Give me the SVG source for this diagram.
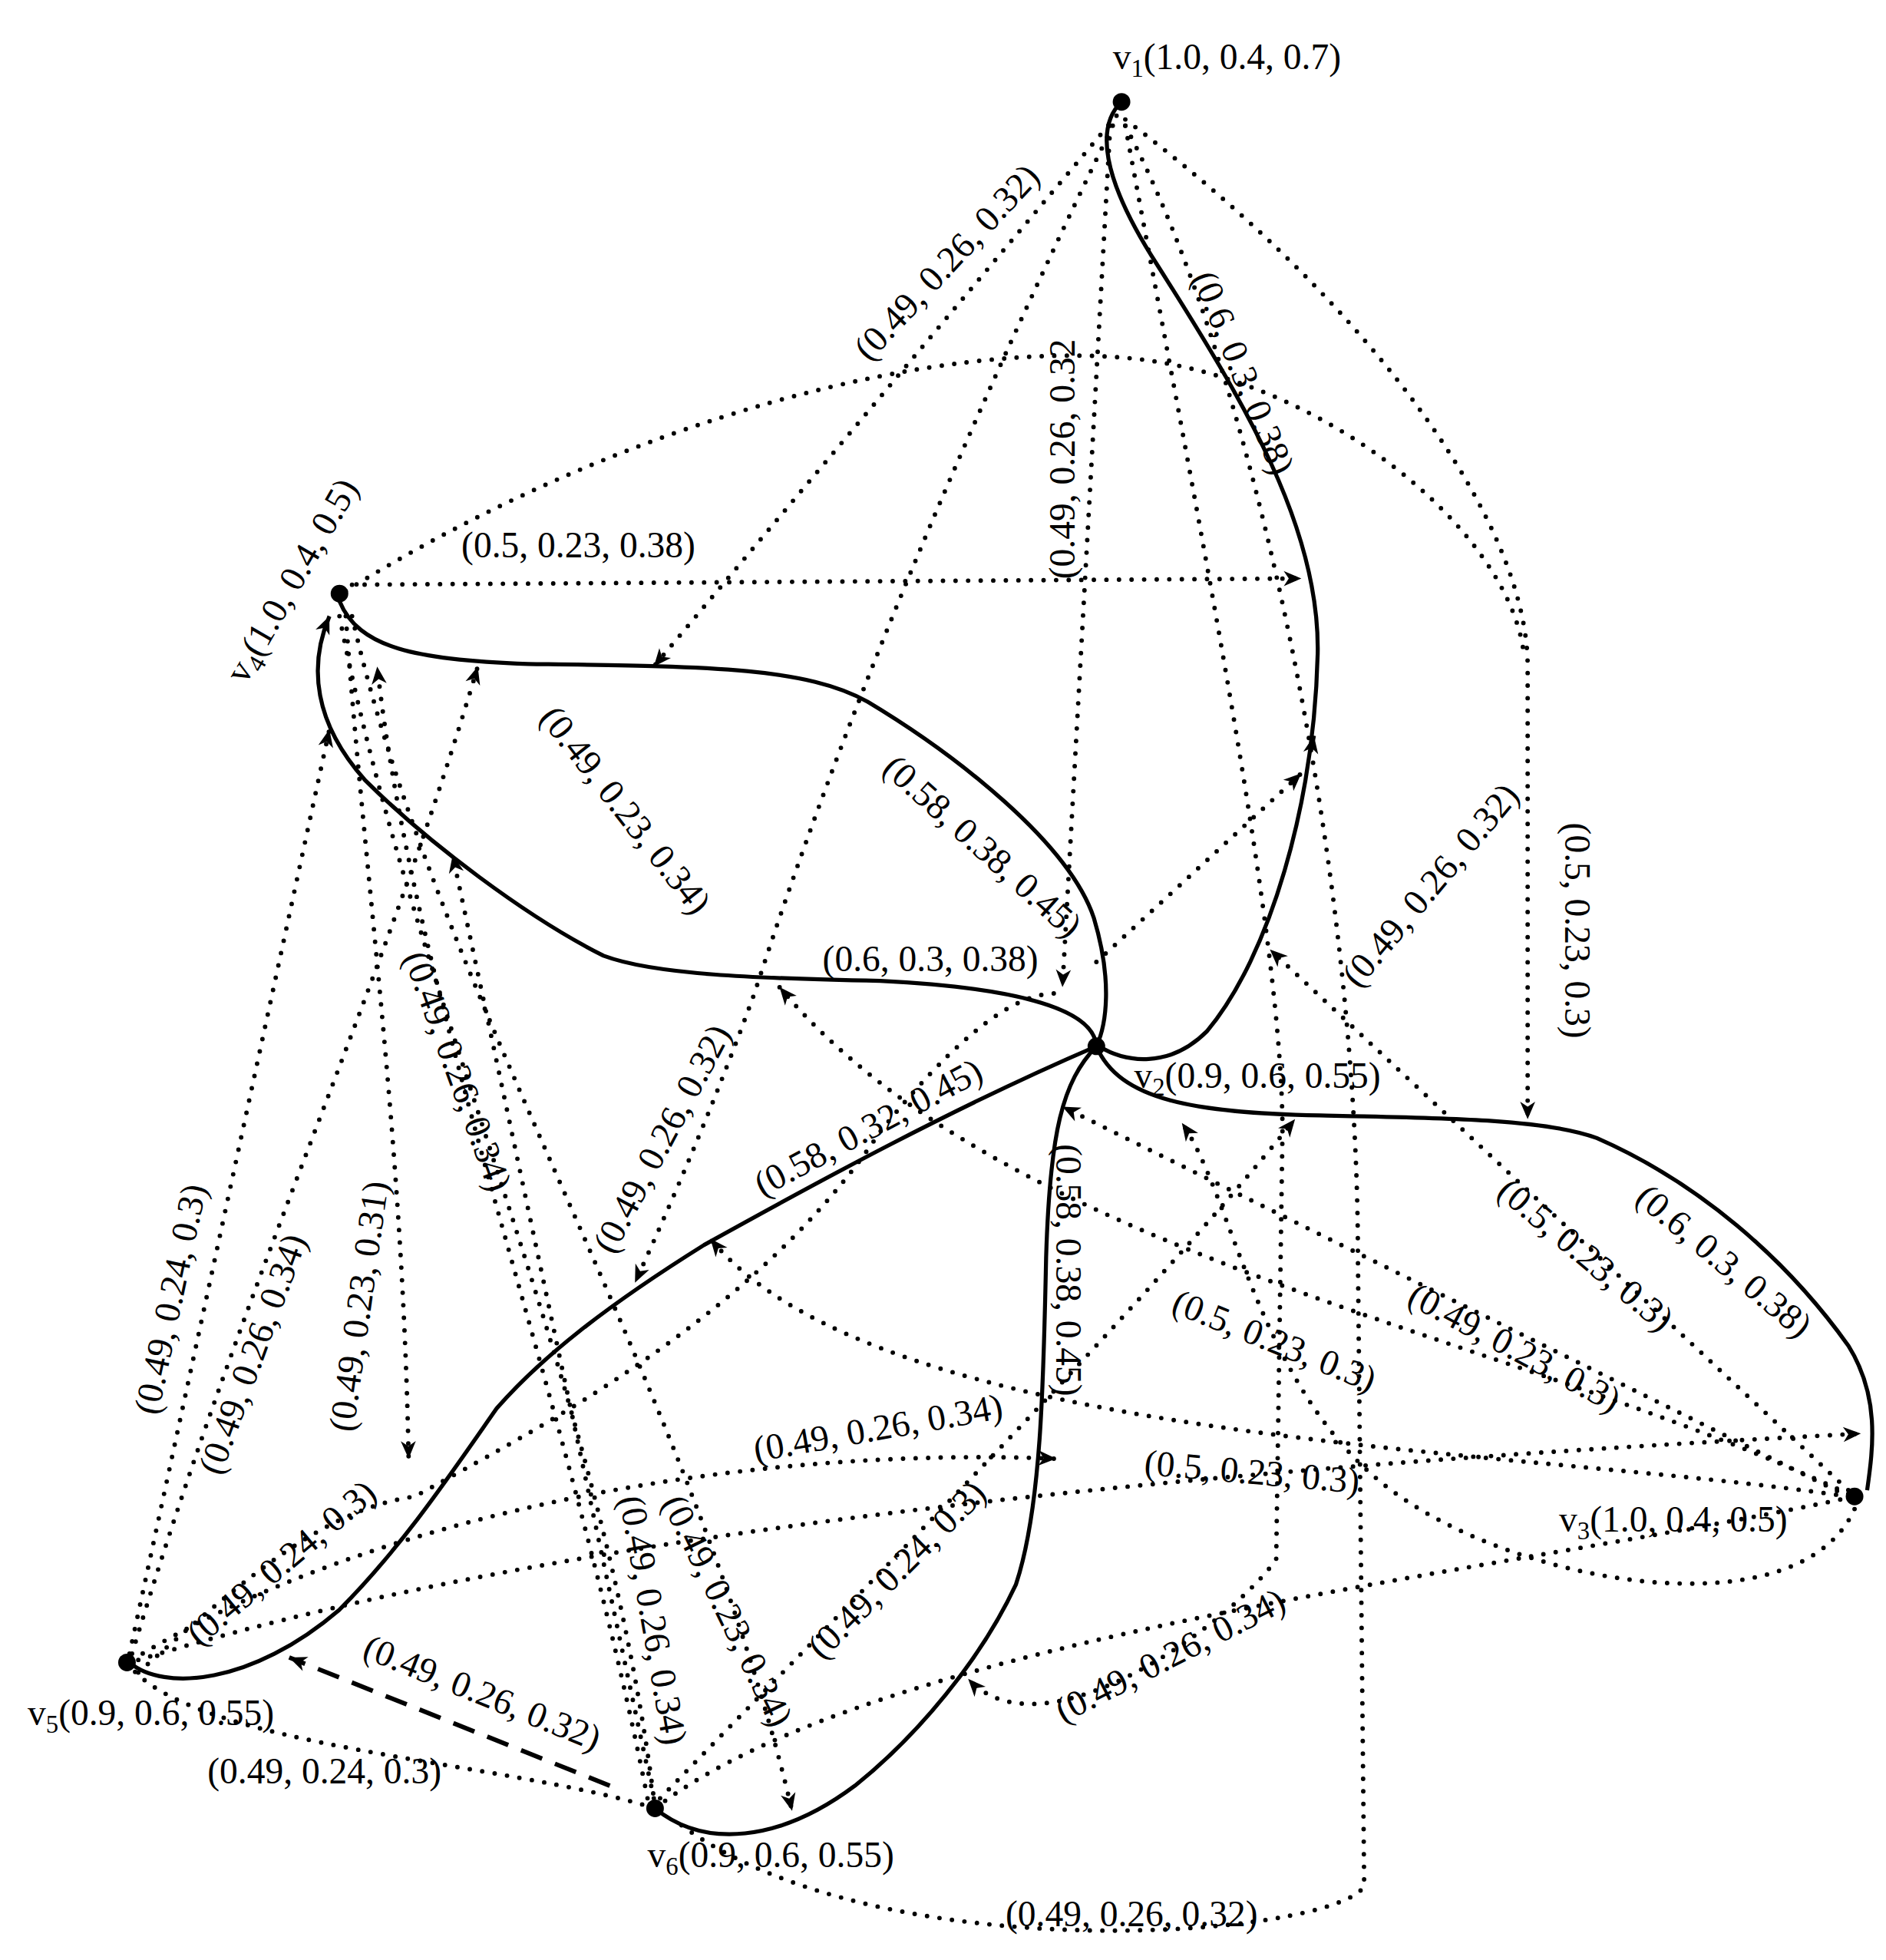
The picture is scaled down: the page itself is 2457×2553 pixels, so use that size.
<svg xmlns="http://www.w3.org/2000/svg" width="2457" height="2553" viewBox="0 0 2457 2553">
<style>
.s{fill:none;stroke:#000;stroke-width:3.2}
.d{fill:none;stroke:#000;stroke-width:3.6;stroke-dasharray:0 10;stroke-linecap:round}
.k{fill:none;stroke:#000;stroke-width:3.6;stroke-dasharray:18 11}
text{font-family:"Liberation Serif",serif;font-size:29px;fill:#000}
.n{fill:#000}
</style>
<defs>
<marker id="m" viewBox="-2 -8 18 16" refX="14" refY="0" markerWidth="18" markerHeight="16" orient="auto" markerUnits="userSpaceOnUse"><path d="M0,-6 L14,0 L0,6 L4,0 z" fill="#000"/></marker>
</defs>
<rect width="2457" height="2553" fill="#fff"/>
<g transform="scale(1.638)">
<g id="connectors">
<path class="s" d="M892,81 C872,100 875,140 920,210 C990,320 1050,420 1048,520 C1045,640 1010,760 960,820 C930,850 895,845 874,832"/>
<path class="s" d="M1043,596 L1045,585" marker-end="url(#m)"/>
<path class="s" d="M270,478 C285,515 330,525 420,528 C560,530 640,530 690,558 C760,600 850,670 870,730 C885,780 880,815 872,832"/>
<path class="s" d="M872,832 C870,800 800,785 700,780 C600,778 520,775 480,760 C420,730 340,670 290,620 C250,575 245,530 262,490" marker-end="url(#m)"/>
<path class="s" d="M872,832 C890,875 950,885 1050,887 C1150,889 1230,890 1270,905 C1350,940 1420,1000 1470,1070 C1495,1110 1490,1150 1485,1185"/>
<path class="s" d="M872,832 C760,880 650,940 560,990 C480,1040 430,1080 395,1120 C360,1170 320,1230 270,1280 C200,1340 130,1345 103,1322"/>
<path class="s" d="M872,832 C845,860 835,900 832,1000 C830,1100 828,1200 808,1260 C780,1320 730,1380 680,1420 C620,1465 560,1470 521,1438"/>
<path class="k" d="M485,1420 L230,1318" marker-end="url(#m)"/>
<path class="d" d="M888,92 L520,530" marker-end="url(#m)"/>
<path class="d" d="M885,100 Q700,480 600,790 Q560,900 505,1020" marker-end="url(#m)"/>
<path class="d" d="M883,100 L845,785" marker-end="url(#m)"/>
<path class="d" d="M895,95 C1100,250 1215,420 1215,530 L1215,890" marker-end="url(#m)"/>
<path class="d" d="M275,470 C500,330 750,270 900,285 C1050,300 1200,420 1212,520"/>
<path class="d" d="M895,100 C960,450 1020,750 1020,900 L1015,1240 C980,1290 830,1400 770,1335" marker-end="url(#m)"/>
<path class="d" d="M895,100 C1000,300 1080,700 1080,1000 L1085,1500 C1060,1540 700,1570 540,1450"/>
<path class="d" d="M280,465 L1035,460" marker-end="url(#m)"/>
<path class="d" d="M872,765 L1035,615" marker-end="url(#m)"/>
<path class="d" d="M1470,1185 L1010,755" marker-end="url(#m)"/>
<path class="d" d="M1470,1188 C1200,1060 800,1000 620,785" marker-end="url(#m)"/>
<path class="d" d="M1470,1190 L845,880" marker-end="url(#m)"/>
<path class="d" d="M1470,1190 C1200,1150 700,1150 565,985" marker-end="url(#m)"/>
<path class="d" d="M110,1320 C500,1200 1100,1160 1480,1140" marker-end="url(#m)"/>
<path class="d" d="M521,1438 C700,1300 1200,1250 1475,1190"/>
<path class="d" d="M1475,1200 C1430,1300 1200,1260 1100,1180 C1000,1100 980,950 940,893" marker-end="url(#m)"/>
<path class="d" d="M103,1315 L262,580" marker-end="url(#m)"/>
<path class="d" d="M105,1315 C200,1000 300,800 380,530" marker-end="url(#m)"/>
<path class="d" d="M275,490 C290,700 320,900 325,1160" marker-end="url(#m)"/>
<path class="d" d="M101,1322 C150,1390 400,1400 521,1438"/>
<path class="d" d="M105,1320 C300,1200 600,1150 840,1160" marker-end="url(#m)"/>
<path class="d" d="M515,1430 C450,1100 330,800 300,530" marker-end="url(#m)"/>
<path class="d" d="M520,1430 L360,680" marker-end="url(#m)"/>
<path class="d" d="M280,490 C350,800 550,1100 630,1440" marker-end="url(#m)"/>
<path class="d" d="M525,1430 C700,1250 900,1050 1030,890" marker-end="url(#m)"/>
<path class="d" d="M270,490 C330,800 480,1100 521,1438"/>
<path class="d" d="M110,1330 C200,1250 260,1200 330,1190 C420,1140 600,1050 700,900 C780,800 820,790 840,790"/>
</g>
<g id="v1"><circle class="n" cx="892" cy="81" r="7"/><text x="885" y="55">v<tspan font-size="20" dy="6">1</tspan><tspan dy="-6">(1.0, 0.4, 0.7)</tspan></text></g>
<g id="v2"><circle class="n" cx="872" cy="832" r="7"/><text x="902" y="865">v<tspan font-size="20" dy="6">2</tspan><tspan dy="-6">(0.9, 0.6, 0.55)</tspan></text></g>
<g id="v3"><circle class="n" cx="1475" cy="1190" r="7"/><text x="1240" y="1218">v<tspan font-size="20" dy="6">3</tspan><tspan dy="-6">(1.0, 0.4, 0.5)</tspan></text></g>
<g id="v4"><circle class="n" cx="270" cy="472" r="7"/><text transform="translate(195,545) rotate(-60)">v<tspan font-size="20" dy="6">4</tspan><tspan dy="-6">(1.0, 0.4, 0.5)</tspan></text></g>
<g id="v5"><circle class="n" cx="101" cy="1322" r="7"/><text x="22" y="1372">v<tspan font-size="20" dy="6">5</tspan><tspan dy="-6">(0.9, 0.6, 0.55)</tspan></text></g>
<g id="v6"><circle class="n" cx="521" cy="1438" r="7"/><text x="515" y="1485">v<tspan font-size="20" dy="6">6</tspan><tspan dy="-6">(0.9, 0.6, 0.55)</tspan></text></g>
<g id="labels" text-anchor="middle">
<text transform="translate(760,215) rotate(-47)">(0.49, 0.26, 0.32)</text>
<text transform="translate(980,300) rotate(68)">(0.6, 0.3, 0.38)</text>
<text transform="translate(855,365) rotate(-90)">(0.49, 0.26, 0.32</text>
<text x="460" y="443">(0.5, 0.23, 0.38)</text>
<text transform="translate(490,650) rotate(52)">(0.49, 0.23, 0.34)</text>
<text transform="translate(775,680) rotate(42)">(0.58, 0.38, 0.45)</text>
<text x="740" y="772">(0.6, 0.3, 0.38)</text>
<text transform="translate(1145,710) rotate(-50)">(0.49, 0.26, 0.32)</text>
<text transform="translate(1245,740) rotate(90)">(0.5, 0.23, 0.3)</text>
<text transform="translate(695,905) rotate(-28)">(0.58, 0.32, 0.45)</text>
<text transform="translate(535,910) rotate(-62)">(0.49, 0.26, 0.32)</text>
<text transform="translate(355,855) rotate(70)">(0.49, 0.26, 0.34)</text>
<text transform="translate(145,1035) rotate(-78)">(0.49, 0.24, 0.3)</text>
<text transform="translate(210,1080) rotate(-70)">(0.49, 0.26, 0.34)</text>
<text transform="translate(295,1040) rotate(-82)">(0.49, 0.23, 0.31)</text>
<text transform="translate(840,1010) rotate(90)">(0.58, 0.38, 0.45)</text>
<text transform="translate(1255,1005) rotate(40)">(0.5, 0.23, 0.3)</text>
<text transform="translate(1365,1010) rotate(40)">(0.6, 0.3, 0.38)</text>
<text transform="translate(1200,1080) rotate(28)">(0.49, 0.23, 0.3)</text>
<text transform="translate(1010,1075) rotate(22)">(0.5, 0.23, 0.3)</text>
<text transform="translate(700,1145) rotate(-10)">(0.49, 0.26, 0.34)</text>
<text transform="translate(995,1180) rotate(5)">(0.5, 0.23, 0.3)</text>
<text transform="translate(230,1250) rotate(-40)">(0.49, 0.24, 0.3)</text>
<text transform="translate(510,1290) rotate(80)">(0.49, 0.26, 0.34)</text>
<text transform="translate(570,1285) rotate(64)">(0.49, 0.23, 0.34)</text>
<text transform="translate(720,1255) rotate(-45)">(0.49, 0.24, 0.3)</text>
<text transform="translate(935,1325) rotate(-27)">(0.49, 0.26, 0.34)</text>
<text transform="translate(380,1355) rotate(22)">(0.49, 0.26, 0.32)</text>
<text x="258" y="1418">(0.49, 0.24, 0.3)</text>
<text x="900" y="1532">(0.49, 0.26, 0.32)</text>
</g>
</g>
</svg>
